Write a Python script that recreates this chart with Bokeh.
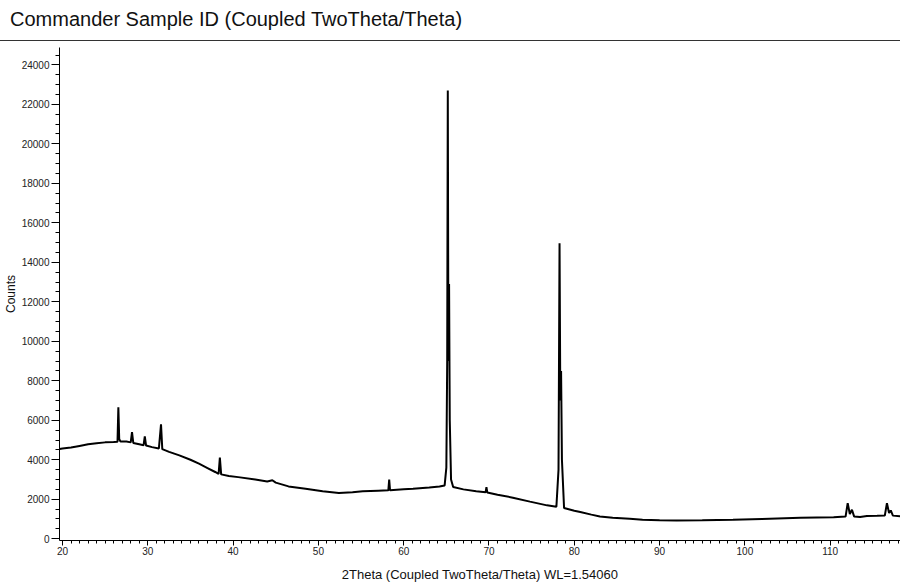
from bokeh.plotting import figure
from bokeh.layouts import column
from bokeh.models import SingleIntervalTicker, Range1d, ColumnDataSource, Div
from bokeh.embed import file_html
from bokeh.resources import INLINE

# Diffraction pattern (2Theta in degrees, Counts)
two_theta = [
    19.65, 20.0, 21.0, 22.0, 23.0, 24.0, 25.0, 26.0, 26.45, 26.55, 26.65, 26.8,
    27.5, 28.0, 28.15, 28.3, 29.0, 29.5, 29.65, 29.8, 30.5, 31.3, 31.55, 31.7,
    32.5, 33.7, 35.0, 36.0, 37.0, 37.9, 38.3, 38.45, 38.6, 39.5, 40.6, 42.6,
    44.0, 44.6, 45.0, 46.5, 48.5, 50.5, 52.4, 54.0, 55.2, 57.0, 58.2, 58.3,
    58.4, 60.0, 61.1, 63.0, 64.2, 64.8, 65.0, 65.1, 65.17, 65.24, 65.32, 65.4,
    65.55, 65.8, 67.0, 68.5, 69.6, 69.7, 69.8, 71.0, 72.8, 74.8, 76.8, 77.9,
    78.15, 78.27, 78.36, 78.45, 78.55, 78.8, 80.0, 80.7, 82.0, 83.0, 84.5, 86.5,
    88.0, 90.0, 92.0, 95.0, 98.6, 102.0, 106.5, 110.4, 111.8, 112.05, 112.3, 112.55,
    112.8, 113.5, 114.3, 115.5, 116.4, 116.65, 116.9, 117.1, 117.35, 118.24,
]
counts = [
    4540, 4570, 4620, 4700, 4780, 4840, 4880, 4900, 4910, 6660, 5050, 4920,
    4920, 4880, 5400, 4850, 4780, 4730, 5180, 4720, 4640, 4570, 5790, 4540,
    4400, 4220, 4000, 3800, 3580, 3380, 3280, 4110, 3260, 3180, 3120, 3000,
    2900, 2960, 2840, 2650, 2530, 2410, 2320, 2360, 2400, 2430, 2450, 2990,
    2450, 2500, 2530, 2600, 2650, 2700, 3600, 9000, 22700, 9000, 12900, 6000,
    3000, 2620, 2500, 2400, 2350, 2610, 2340, 2230, 2080, 1880, 1690, 1620,
    3500, 14970, 7000, 8500, 4000, 1560, 1420, 1350, 1220, 1130, 1060, 1010,
    960, 930, 920, 930, 960, 1000, 1060, 1090, 1120, 1800, 1250, 1470,
    1130, 1100, 1150, 1160, 1170, 1800, 1300, 1430, 1170, 1130,
]

title_text = "Commander Sample ID (Coupled TwoTheta/Theta)"
x_label = "2Theta (Coupled TwoTheta/Theta) WL=1.54060"
y_label = "Counts"
x_tick_step = 10
y_tick_step = 2000

FONT = "Liberation Sans"
W = 900

# ---- header: title + horizontal rule
head = Div(
    text=title_text, width=W, height=41, margin=0,
    styles={
        "font-family": FONT, "font-size": "20px", "color": "#111111",
        "border-bottom": "1px solid #333333", "box-sizing": "border-box",
        "padding-left": "10px", "padding-top": "8px",
        "line-height": "23px", "white-space": "nowrap",
    },
)

# ---- main plot
src = ColumnDataSource(data=dict(x=two_theta, y=counts))

p = figure(
    width=W, height=543,
    output_backend="svg", toolbar_location=None,
    x_range=Range1d(19.65, 118.24), y_range=Range1d(-90, 24880),
    min_border_left=52, min_border_right=0, min_border_top=6, min_border_bottom=44,
    margin=0,
)
p.background_fill_color = "white"
p.border_fill_color = "white"
p.outline_line_color = None
p.xgrid.visible = False
p.ygrid.visible = False

p.line("x", "y", source=src, line_color="black", line_width=2)

xa = p.xaxis[0]
xa.ticker = SingleIntervalTicker(interval=x_tick_step, num_minor_ticks=10)
xa.axis_label = x_label
xa.axis_label_text_font = FONT
xa.axis_label_text_font_size = "13px"
xa.axis_label_text_font_style = "normal"
xa.axis_label_text_color = "#111111"
xa.axis_label_standoff = 9
xa.major_label_text_font = FONT
xa.major_label_text_font_size = "10px"
xa.major_label_text_color = "#222222"
xa.major_label_standoff = 1
xa.major_tick_out = 5
xa.major_tick_in = 0
xa.minor_tick_out = 3
xa.minor_tick_in = 0
xa.axis_line_color = "black"
xa.major_tick_line_color = "black"
xa.minor_tick_line_color = "black"

ya = p.yaxis[0]
ya.ticker = SingleIntervalTicker(interval=y_tick_step, num_minor_ticks=4)
ya.axis_label = y_label
ya.axis_label_text_font = FONT
ya.axis_label_text_font_size = "12px"
ya.axis_label_text_font_style = "normal"
ya.axis_label_text_color = "#111111"
ya.axis_label_standoff = 1
ya.major_label_text_font = FONT
ya.major_label_text_font_size = "10px"
ya.major_label_text_color = "#222222"
ya.major_label_standoff = 2
ya.major_tick_out = 8
ya.major_tick_in = 0
ya.minor_tick_out = 4
ya.minor_tick_in = 0
ya.axis_line_color = "black"
ya.major_tick_line_color = "black"
ya.minor_tick_line_color = "black"

layout = column(head, p, spacing=0, margin=0)
open("out.html", "w").write(file_html(layout, INLINE))
